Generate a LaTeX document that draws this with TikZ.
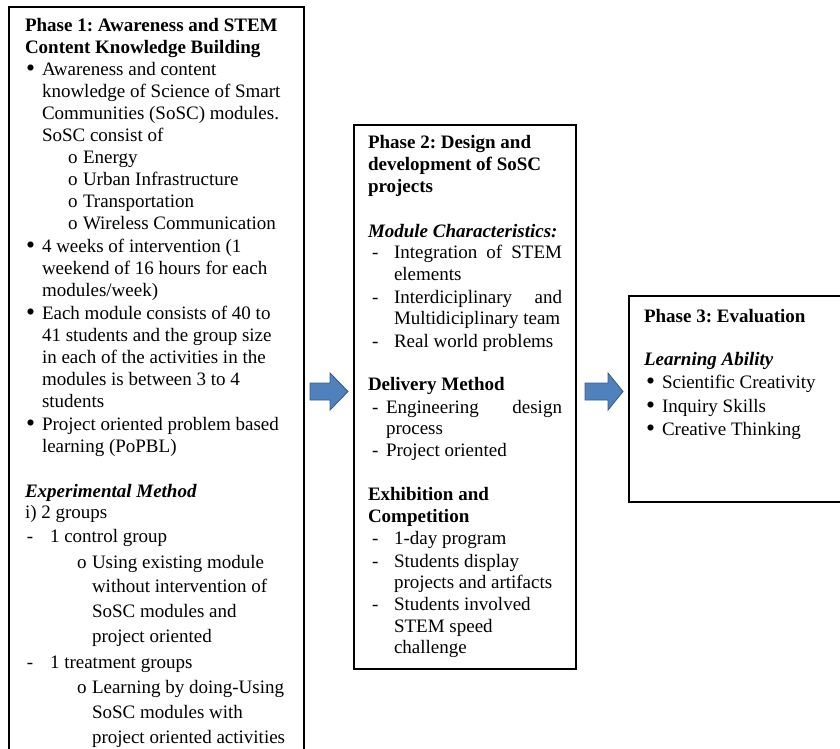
\documentclass[tikz,border=0pt]{standalone}
\usepackage{fontspec}
\usepackage{graphicx}
\setmainfont{Liberation Serif}
\frenchspacing
\definecolor{arrowfill}{HTML}{4F81BD}
\definecolor{arrowline}{HTML}{385D8A}
\newcounter{lnno}
\newcommand\T[3]{\stepcounter{lnno}\node[txt] (t\thelnno) at (#1,#2) {#3};}
\newcommand\bigbul{\raisebox{-1.2pt}{\scalebox{1.35}{\textbullet}}}
\begin{document}
\begin{tikzpicture}[x=1pt,y=-1pt,
  txt/.style={anchor=base west,inner sep=0pt,outer sep=0pt,font=\fontsize{19}{22}\selectfont},
  box/.style={draw=black,line width=1.4pt,inner sep=0pt,outer sep=0pt,anchor=north west},
  blockarrow/.style={fill=arrowfill,draw=arrowline,line width=0.9pt,line join=miter}]
\useasboundingbox (0,0) rectangle (840,749);
\clip (0,0) rectangle (840,749);
% boxes
\node[box,minimum width=295pt,minimum height=760pt] (p1) at (9,7) {};
\node[box,minimum width=222pt,minimum height=544pt] (p2) at (354,125) {};
\node[box,minimum width=240pt,minimum height=206pt] (p3) at (629,296) {};
% arrows
\draw[blockarrow] (310,383) -- (330,383) -- (330,373) -- (348,391.5) -- (330,410) -- (330,400) -- (310,400) -- cycle;
\draw[blockarrow] (585,383) -- (608,383) -- (608,373) -- (623,391.5) -- (608,410) -- (608,400) -- (585,400) -- cycle;
% Phase 1
\T{25}{31.5}{\textbf{Phase 1: Awareness and STEM}}
\T{25}{53.5}{\textbf{Content Knowledge Building}}
\T{26}{75.5}{\bigbul}
\T{42}{75.5}{Awareness and content}
\T{42}{97.5}{knowledge of Science of Smart}
\T{42}{119.5}{Communities (SoSC) modules.}
\T{42}{141.5}{SoSC consist of}
\T{68}{163.5}{o}\T{83}{163.5}{Energy}
\T{68}{185.5}{o}\T{83}{185.5}{Urban Infrastructure}
\T{68}{207.5}{o}\T{83}{207.5}{Transportation}
\T{68}{229.5}{o}\T{83}{229.5}{Wireless Communication}
\T{26}{252}{\bigbul}
\T{42}{252}{4 weeks of intervention (1}
\T{42}{274}{weekend of 16 hours for each}
\T{42}{296}{modules/week)}
\T{26}{319}{\bigbul}
\T{42}{319}{Each module consists of 40 to}
\T{42}{341}{41 students and the group size}
\T{42}{363}{in each of the activities in the}
\T{42}{385}{modules is between 3 to 4}
\T{42}{407}{students}
\T{26}{430}{\bigbul}
\T{42}{430}{Project oriented problem based}
\T{42}{452}{learning (PoPBL)}
\T{25}{497}{\textbf{\textit{Experimental Method}}}
\T{25}{518}{i) 2 groups}
\T{27}{542}{-}\T{50}{542}{1 control group}
\T{77}{568}{o}\T{92}{568}{Using existing module}
\T{92}{592}{without intervention of}
\T{92}{617}{SoSC modules and}
\T{92}{642}{project oriented}
\T{27}{668}{-}\T{50}{668}{1 treatment groups}
\T{77}{693}{o}\T{92}{693}{Learning by doing-Using}
\T{92}{718}{SoSC modules with}
\T{92}{743}{project oriented activities}
% Phase 2
\T{368}{148}{\textbf{Phase 2: Design and}}
\T{368}{170}{\textbf{development of SoSC}}
\T{368}{192}{\textbf{projects}}
\T{368}{237}{\textbf{\textit{Module Characteristics:}}}
\T{372}{258}{-}\T{394}{258}{\makebox[168pt][s]{Integration of STEM}}
\T{394}{280}{elements}
\T{372}{303}{-}\T{394}{303}{\makebox[168pt][s]{Interdiciplinary and}}
\T{394}{324}{Multidiciplinary team}
\T{372}{347}{-}\T{394}{347}{Real world problems}
\T{368}{390}{\textbf{Delivery Method}}
\T{372}{413}{-}\T{386}{413}{\makebox[176pt][s]{Engineering design}}
\T{386}{434}{process}
\T{372}{456}{-}\T{386}{456}{Project oriented}
\T{368}{500}{\textbf{Exhibition and}}
\T{368}{522}{\textbf{Competition}}
\T{372}{544}{-}\T{394}{544}{1-day program}
\T{372}{567}{-}\T{394}{567}{Students display}
\T{394}{588}{projects and artifacts}
\T{372}{610}{-}\T{394}{610}{Students involved}
\T{394}{632}{STEM speed}
\T{394}{653}{challenge}
% Phase 3
\T{644}{322}{\textbf{Phase 3: Evaluation}}
\T{644}{365}{\textbf{\textit{Learning Ability}}}
\T{646}{388}{\bigbul}\T{662}{388}{Scientific Creativity}
\T{646}{412}{\bigbul}\T{662}{412}{Inquiry Skills}
\T{646}{435}{\bigbul}\T{662}{435}{Creative Thinking}
\end{tikzpicture}
\end{document}
